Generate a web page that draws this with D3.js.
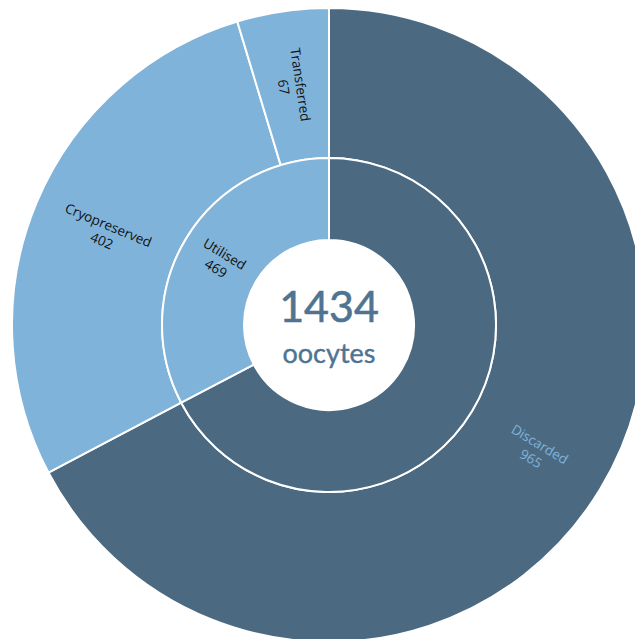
<!DOCTYPE html>
<html>
<head>
<meta charset="utf-8">
<script src="https://cdn.jsdelivr.net/npm/d3@7"></script>
<style>
  html, body { margin: 0; padding: 0; background: #fff; }
  svg { display: block; }
</style>
</head>
<body>
<svg id="chart" width="635" height="639"></svg>
<script>
// Inner ring: fate of all oocytes
const innerCategories = ["Discarded", "Utilised"];
const innerValues = [965, 469];
// Outer ring: breakdown of utilised oocytes
const outerCategories = ["Discarded", "Cryopreserved", "Transferred"];
const outerValues = [965, 402, 67];
const totalLabel = "1434";
const unitLabel = "oocytes";

const dark = "#4b6a82";
const light = "#80b3da";
const colorOf = {Discarded: dark, Utilised: light, Cryopreserved: light, Transferred: light};
const labelColor = {Discarded: light, Utilised: "#111", Cryopreserved: "#111", Transferred: "#111"};

const cx = 329, cy = 325;
const r0 = 85, r1 = 167, r2 = 317;

const svg = d3.select("#chart");
const g = svg.append("g").attr("transform", `translate(${cx},${cy})`);

const pie = d3.pie().sort(null).value(d => d.value);

const innerData = pie(innerCategories.map((c, i) => ({name: c, value: innerValues[i]})));
const outerData = pie(outerCategories.map((c, i) => ({name: c, value: outerValues[i]})));

const innerArc = d3.arc().innerRadius(r0).outerRadius(r1);
const outerArc = d3.arc().innerRadius(r1).outerRadius(r2);

function ring(data, arc, cls) {
  g.append("g").attr("class", cls)
    .selectAll("path").data(data).join("path")
    .attr("d", arc)
    .attr("fill", d => colorOf[d.data.name])
    .attr("stroke", "#fff")
    .attr("stroke-width", 2)
    .attr("stroke-linejoin", "round");
}
ring(outerData, outerArc, "outer");
ring(innerData, innerArc, "inner");

// Radial labels placed at the middle of each segment
function labels(data, rMid, skip) {
  const lg = g.append("g");
  data.forEach(d => {
    if (skip && skip.includes(d.data.name)) return;
    const a = (d.startAngle + d.endAngle) / 2;
    const x = Math.sin(a) * rMid, y = -Math.cos(a) * rMid;
    const deg = a * 180 / Math.PI;
    const rot = deg < 180 ? deg - 90 : deg - 270;
    const t = lg.append("text")
      .attr("transform", `translate(${x},${y}) rotate(${rot})`)
      .attr("text-anchor", "middle")
      .attr("font-family", "'Open Sans', sans-serif")
      .attr("font-size", 13.5)
      .attr("fill", labelColor[d.data.name]);
    t.append("tspan").attr("x", 0).attr("dy", "-0.15em").text(d.data.name);
    t.append("tspan").attr("x", 0).attr("dy", "1.25em").text(d.data.value);
  });
}
labels(outerData, (r1 + r2) / 2, []);
labels(innerData, (r0 + r1) / 2, ["Discarded"]);

// Centre total
g.append("text")
  .attr("x", 0).attr("y", -3)
  .attr("text-anchor", "middle")
  .attr("font-family", "Lato, 'Open Sans', sans-serif")
  .attr("font-size", 43)
  .attr("fill", "#4f7491")
  .attr("stroke", "#4f7491")
  .attr("stroke-width", 0.6)
  .text(totalLabel);
g.append("text")
  .attr("x", 0).attr("y", 38)
  .attr("text-anchor", "middle")
  .attr("font-family", "Lato, 'Open Sans', sans-serif")
  .attr("font-size", 27)
  .attr("fill", "#4f7491")
  .attr("stroke", "#4f7491")
  .attr("stroke-width", 0.4)
  .text(unitLabel);
</script>
</body>
</html>
